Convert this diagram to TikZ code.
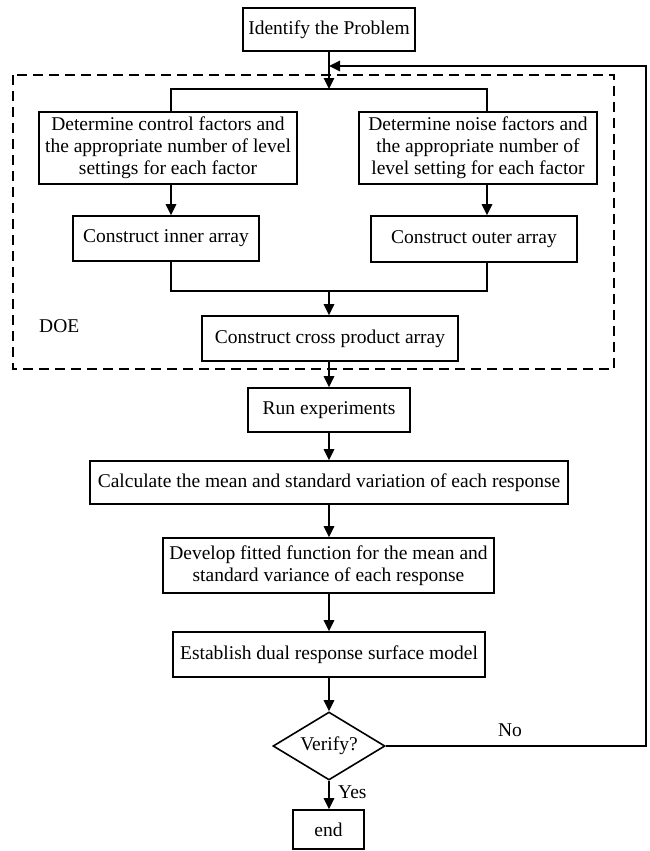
\documentclass[tikz,border=0pt]{standalone}
\usepackage{fontspec}
\setmainfont{Liberation Serif}
\usetikzlibrary{arrows.meta,shapes.geometric}
\tikzset{
  box/.style={draw, line width=1.6pt, inner sep=0pt, align=center,
    font=\fontsize{19.5}{22}\selectfont},
  lbl/.style={inner sep=0pt, font=\fontsize{19.5}{22}\selectfont},
  conn/.style={line width=1.6pt},
  arr/.style={line width=1.6pt, -{Triangle[length=11pt,width=10.5pt]}},
  dbox/.style={line width=1.7pt, dash pattern=on 10pt off 6pt}
}
\begin{document}
\begin{tikzpicture}[x=1pt,y=-1pt]
\useasboundingbox (0,0) rectangle (649,851);
% dashed DOE frame
\draw[dbox] (13,75) rectangle (614,369);
\node[lbl, anchor=west] (doe) at (39,326) {DOE};
% nodes
\node[box, minimum width=172pt, minimum height=43pt] (ident) at (329,29.5) {Identify the Problem};
\node[box, minimum width=258pt, minimum height=72pt] (ctrl) at (168,148) {Determine control factors and\\the appropriate number of level\\settings for each factor};
\node[box, minimum width=238pt, minimum height=72pt] (noise) at (478,148) {Determine noise factors and\\the appropriate number of\\level setting for each factor};
\node[box, minimum width=186pt, minimum height=45pt] (inner) at (166,238.5) {Construct inner array};
\node[box, minimum width=206pt, minimum height=46pt] (outer) at (474,239) {Construct outer array};
\node[box, minimum width=256pt, minimum height=45pt] (cross) at (330,338.5) {Construct cross product array};
\node[box, minimum width=162pt, minimum height=44pt] (run) at (329,410) {Run experiments};
\node[box, minimum width=478pt, minimum height=43pt] (calc) at (329,482.5) {Calculate the mean and standard variation of each response};
\node[box, minimum width=331pt, minimum height=55pt] (devel) at (328.5,565.5) {Develop fitted function for the mean and\\standard variance of each response};
\node[box, minimum width=312pt, minimum height=45pt] (estab) at (329,654.5) {Establish dual response surface model};
\node[box, diamond, aspect=1.65, minimum width=112pt, minimum height=68pt] (verify) at (329,746) {Verify?};
\node[box, minimum width=71pt, minimum height=39pt] (endn) at (328.5,829.5) {end};
\node[lbl] (no) at (510,730) {No};
\node[lbl, anchor=west] (yes) at (338,792) {Yes};
% helper coordinates
\coordinate (cL) at (171,0);
\coordinate (cR) at (487,0);
\coordinate (cM) at (329,0);
\coordinate (split) at (329,89);
\coordinate (merge) at (329,291);
\coordinate (fbR) at (646,66);
% connectors
\draw[arr] (ident.south) -- (split);
\draw[conn] (ctrl.north -| cL) |- (split) -| (noise.north -| cR);
\draw[arr] (ctrl.south -| cL) -- (inner.north -| cL);
\draw[arr] (noise.south -| cR) -- (outer.north -| cR);
\draw[conn] (inner.south -| cL) |- (merge) -| (outer.south -| cR);
\draw[arr] (merge) -- (cross.north -| cM);
\draw[arr] (cross.south -| cM) -- (run.north);
\draw[arr] (run.south) -- (calc.north);
\draw[arr] (calc.south) -- (devel.north -| cM);
\draw[arr] (devel.south -| cM) -- (estab.north);
\draw[arr] (estab.south) -- (verify.north);
\draw[arr] (verify.south) -- (endn.north -| cM);
\draw[arr] (verify.east) -| (fbR) -- (ident.south |- fbR);
\end{tikzpicture}
\end{document}
